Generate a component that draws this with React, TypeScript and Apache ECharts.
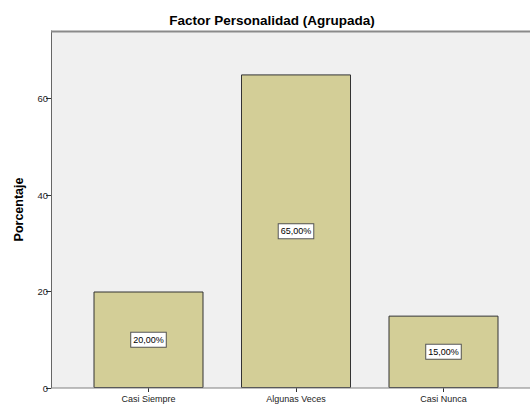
import React, { useEffect, useRef } from "react";
import * as echarts from "echarts";

const categories = ["Casi Siempre", "Algunas Veces", "Casi Nunca"];
const values = [20, 65, 15];
const valueLabels = ["20,00%", "65,00%", "15,00%"];
const yTicks = [0, 20, 40, 60];

export default function App() {
  const ref = useRef<HTMLDivElement>(null);
  useEffect(() => {
    if (!ref.current) return;
    const chart = echarts.init(ref.current, null, { renderer: "svg" });
    const font = "Liberation Sans, Arial, sans-serif";
    chart.setOption({
      animation: false,
      backgroundColor: "#ffffff",
      title: {
        text: "Factor Personalidad (Agrupada)",
        left: 267,
        textAlign: "center",
        top: 8,
        textStyle: { fontFamily: font, fontSize: 13.5, fontWeight: "bold", color: "#000" },
      },
      graphic: [
        {
          type: "rect",
          z: -10,
          silent: true,
          shape: { x: 51, y: 31, width: 480, height: 357 },
          style: { fill: "#F0F0F0" },
        },
        {
          type: "line",
          z: 10,
          silent: true,
          shape: { x1: 51, y1: 31.5, x2: 530, y2: 31.5 },
          style: { stroke: "#8a8a8a", lineWidth: 2 },
        },
        {
          type: "line",
          z: 10,
          silent: true,
          shape: { x1: 51, y1: 388, x2: 530, y2: 388 },
          style: { stroke: "#808080", lineWidth: 1 },
        },
      ],
      grid: { left: 74.75, top: 31, width: 442.5, bottom: 18, containLabel: false },
      xAxis: {
        type: "category",
        data: categories,
        axisLine: { show: false },
        axisTick: { show: true, alignWithLabel: true, length: 4, lineStyle: { color: "#333" } },
        axisLabel: { fontFamily: font, fontSize: 9, color: "#222", margin: 6 },
      },
      yAxis: {
        type: "value",
        min: 0,
        max: 74,
        offset: 23.75,
        customValues: yTicks,
        axisLine: { show: true, lineStyle: { color: "#666" } },
        axisTick: { show: true, length: 5, lineStyle: { color: "#333" }, customValues: yTicks },
        axisLabel: { fontFamily: font, fontSize: 9.5, color: "#222", margin: 3, customValues: yTicks },
        splitLine: { show: false },
        name: "Porcentaje",
        nameLocation: "middle",
        nameGap: 26,
        nameTextStyle: { fontFamily: font, fontSize: 12.5, fontWeight: "bold", color: "#000" },
      },
      series: [
        {
          type: "bar",
          data: values,
          barWidth: 110,
          itemStyle: { color: "#D3CE97", borderColor: "#333", borderWidth: 1 },
          label: {
            show: true,
            position: "inside",
            formatter: (p: any) => valueLabels[p.dataIndex],
            fontFamily: font,
            fontSize: 9,
            color: "#000",
            backgroundColor: "#fff",
            borderColor: "#555",
            borderWidth: 1,
            padding: [3, 2, 2, 2],
          },
        },
      ],
    });
    return () => chart.dispose();
  }, []);
  return <div ref={ref} style={{ width: 530, height: 406, position: "absolute", left: 0, top: 0 }} />;
}
